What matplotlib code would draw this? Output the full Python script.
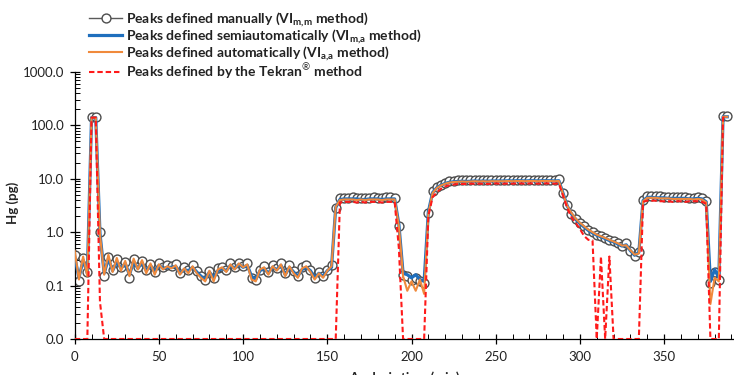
import numpy as np
import matplotlib
matplotlib.use("Agg")
import matplotlib.pyplot as plt
from matplotlib.ticker import FixedLocator, LogLocator, MultipleLocator, NullFormatter

plt.rcParams['font.family'] = ['Lato', 'DejaVu Sans']
plt.rcParams['mathtext.fontset'] = 'custom'
plt.rcParams['mathtext.rm'] = 'Lato'
plt.rcParams['mathtext.bf'] = 'Lato:bold'

# ---- data (2.5-min analysis cycles) ----
n_points = 156
time_min = np.arange(n_points) * 2.5

manual = [
    0.38, 0.12, 0.33, 0.18, 145, 145, 1.0, 0.15, 0.35, 0.20,
    0.31, 0.22, 0.28, 0.14, 0.31, 0.22, 0.29, 0.20, 0.25, 0.18,
    0.26, 0.22, 0.24, 0.23, 0.25, 0.17, 0.22, 0.20, 0.24, 0.19,
    0.15, 0.13, 0.19, 0.14, 0.21, 0.22, 0.20, 0.26, 0.22, 0.27,
    0.23, 0.26, 0.14, 0.13, 0.20, 0.23, 0.18, 0.24, 0.21, 0.26,
    0.17, 0.24, 0.19, 0.15, 0.22, 0.24, 0.20, 0.14, 0.18, 0.15,
    0.20, 0.24, 2.8, 4.3, 4.4, 4.4, 4.5, 4.4, 4.4, 4.3,
    4.4, 4.5, 4.4, 4.4, 4.5, 4.5, 4.4, 1.3, 0.16, 0.15,
    0.13, 0.14, 0.12, 0.11, 2.3, 5.8, 7.0, 7.8, 8.5, 9.0,
    9.2, 9.4, 9.5, 9.4, 9.5, 9.6, 9.5, 9.6, 9.5, 9.6,
    9.7, 9.6, 9.6, 9.7, 9.6, 9.7, 9.7, 9.6, 9.7, 9.7,
    9.6, 9.7, 9.7, 9.7, 9.6, 9.8, 5.5, 3.2, 2.2, 1.8,
    1.5, 1.3, 1.1, 1.0, 0.9, 0.85, 0.78, 0.72, 0.68, 0.62,
    0.55, 0.62, 0.45, 0.36, 0.42, 4.0, 4.8, 4.8, 4.7, 4.7,
    4.6, 4.6, 4.6, 4.5, 4.5, 4.5, 4.4, 4.4, 4.5, 4.4,
    3.8, 0.11, 0.18, 0.13, 148, 148,
]

semiauto = [
    0.35, 0.14, 0.30, 0.17, 140, 140, 0.95, 0.17, 0.32, 0.19,
    0.28, 0.21, 0.26, 0.16, 0.28, 0.21, 0.27, 0.19, 0.24, 0.18,
    0.24, 0.21, 0.22, 0.22, 0.23, 0.17, 0.20, 0.19, 0.22, 0.18,
    0.15, 0.13, 0.18, 0.14, 0.19, 0.21, 0.19, 0.24, 0.21, 0.25,
    0.22, 0.24, 0.15, 0.13, 0.19, 0.21, 0.17, 0.22, 0.20, 0.24,
    0.16, 0.22, 0.18, 0.15, 0.20, 0.22, 0.19, 0.14, 0.17, 0.15,
    0.19, 0.22, 2.9, 4.1, 4.2, 4.2, 4.2, 4.2, 4.1, 4.1,
    4.2, 4.2, 4.2, 4.1, 4.2, 4.2, 4.2, 1.4, 0.17, 0.16,
    0.14, 0.16, 0.13, 0.12, 2.4, 5.5, 6.8, 7.6, 8.2, 8.6,
    8.8, 8.9, 9.0, 8.9, 9.0, 9.1, 9.0, 9.1, 9.0, 9.1,
    9.1, 9.1, 9.1, 9.2, 9.1, 9.2, 9.2, 9.1, 9.2, 9.2,
    9.1, 9.2, 9.2, 9.2, 9.1, 9.2, 5.3, 3.1, 2.2, 1.75,
    1.45, 1.25, 1.08, 0.97, 0.88, 0.82, 0.76, 0.70, 0.66, 0.60,
    0.55, 0.58, 0.45, 0.37, 0.42, 3.9, 4.5, 4.5, 4.4, 4.4,
    4.4, 4.3, 4.3, 4.3, 4.3, 4.3, 4.2, 4.2, 4.3, 4.2,
    3.7, 0.12, 0.20, 0.14, 145, 145,
]

automatic = [
    0.45, 0.13, 0.35, 0.15, 140, 140, 0.9, 0.16, 0.38, 0.18,
    0.33, 0.19, 0.29, 0.15, 0.32, 0.20, 0.30, 0.17, 0.26, 0.16,
    0.25, 0.20, 0.23, 0.21, 0.24, 0.16, 0.21, 0.17, 0.23, 0.17,
    0.14, 0.12, 0.19, 0.12, 0.20, 0.22, 0.18, 0.25, 0.20, 0.26,
    0.22, 0.25, 0.13, 0.12, 0.20, 0.22, 0.16, 0.23, 0.19, 0.25,
    0.15, 0.23, 0.17, 0.14, 0.21, 0.23, 0.18, 0.13, 0.17, 0.14,
    0.19, 0.23, 3.0, 4.0, 4.1, 4.1, 4.1, 4.0, 4.1, 4.0,
    4.1, 4.1, 4.1, 4.0, 4.1, 4.1, 4.1, 1.3, 0.15, 0.08,
    0.12, 0.08, 0.13, 0.07, 2.2, 5.4, 6.7, 7.5, 8.1, 8.5,
    8.7, 8.8, 8.9, 8.8, 8.9, 9.0, 8.9, 9.0, 8.9, 9.0,
    9.0, 9.0, 9.0, 9.1, 9.0, 9.1, 9.1, 9.0, 9.1, 9.1,
    9.0, 9.1, 9.1, 9.1, 9.0, 9.1, 5.2, 3.1, 2.3, 1.8,
    1.5, 1.3, 1.12, 1.0, 0.9, 0.84, 0.78, 0.72, 0.67, 0.62,
    0.56, 0.57, 0.46, 0.38, 0.40, 3.8, 4.4, 4.4, 4.4, 4.3,
    4.3, 4.3, 4.2, 4.2, 4.2, 4.2, 4.2, 4.1, 4.2, 4.1,
    3.6, 0.045, 0.14, 0.12, 145, 145,
]

tekran = (
    [0.01, 0.01, 0.01, 0.01, 140, 140, 0.05, 0.01, 0.01, 0.01]
    + [0.01] * 50
    + [0.01, 0.01, 0.01, 3.6, 3.7, 3.7, 3.7, 3.6, 3.7, 3.6,
       3.7, 3.7, 3.7, 3.6, 3.7, 3.7, 3.7, 0.5, 0.01, 0.01,
       0.01, 0.01, 0.01, 0.01, 2.0, 4.5, 5.6, 6.5, 7.2, 7.6,
       7.8, 8.0, 8.0, 8.0, 8.1, 8.1, 8.1, 8.1, 8.0, 8.1,
       8.2, 8.1, 8.1, 8.2, 8.1, 8.2, 8.2, 8.1, 8.2, 8.2,
       8.1, 8.2, 8.2, 8.2, 8.1, 8.2, 4.8, 2.8, 1.9, 1.5,
       1.15, 0.85, 0.72, 0.70, 0.01, 0.35, 0.01, 0.35, 0.01, 0.01,
       0.01, 0.01, 0.01, 0.01, 0.01, 3.7, 3.9, 3.9, 3.9, 3.8,
       3.8, 3.8, 3.7, 3.8, 3.8, 3.7, 3.8, 3.8, 3.8, 3.7,
       3.4, 0.01, 0.01, 0.01, 140, 140]
)

y_ticks = [0.01, 0.1, 1, 10, 100, 1000]
y_tick_labels = ["0.0", "0.1", "1.0", "10.0", "100.0", "1000.0"]
x_ticks = [0, 50, 100, 150, 200, 250, 300, 350]

labels = [
    r"Peaks defined manually (VI$_{\mathbf{m{,}m}}$ method)",
    r"Peaks defined semiautomatically (VI$_{\mathbf{m{,}a}}$ method)",
    r"Peaks defined automatically (VI$_{\mathbf{a{,}a}}$ method)",
    r"Peaks defined by the Tekran$^{\circledR}$ method",
]

W, H = 734, 375
fig = plt.figure(figsize=(W / 100, H / 100), dpi=100)
ax_left, ax_right_px = 74.7, 734
ax_top_px, ax_bot_px = 72, 339
ax = fig.add_axes([ax_left / W, 1 - ax_bot_px / H,
                   (ax_right_px - ax_left) / W, (ax_bot_px - ax_top_px) / H])

l1, = ax.plot(time_min, manual, color="#5a5a5a", lw=1.0, marker="o", ms=6.4,
              mfc="white", mec="#4d4d4d", mew=1.0, zorder=2)
l2, = ax.plot(time_min, semiauto, color="#1f6fbd", lw=2.3, zorder=3)
l3, = ax.plot(time_min, automatic, color="#f08a3c", lw=1.5, zorder=4)
l4, = ax.plot(time_min, tekran, color="#ff1a1a", lw=1.5, ls=(0, (2.6, 1.4)), zorder=5)

ax.set_yscale("log")
ax.set_ylim(0.01, 1000)
ax.set_xlim(0, (ax_right_px - ax_left) / 1.684)
ax.yaxis.set_major_locator(FixedLocator(y_ticks))
ax.set_yticklabels(y_tick_labels)
ax.yaxis.set_minor_locator(LogLocator(base=10, subs=np.arange(2, 10), numticks=20))
ax.yaxis.set_minor_formatter(NullFormatter())
ax.xaxis.set_major_locator(FixedLocator(x_ticks))
ax.xaxis.set_minor_locator(MultipleLocator(10))

for s in ["top", "right"]:
    ax.spines[s].set_visible(False)
for s in ["left", "bottom"]:
    ax.spines[s].set_color("black")
    ax.spines[s].set_linewidth(0.9)

ax.tick_params(axis="both", which="major", direction="inout", length=7, width=0.9,
               labelsize=9.5, colors="black", labelcolor="#222222")
ax.tick_params(axis="both", which="minor", direction="in", length=3.5, width=0.7)
ax.tick_params(axis="x", which="major", pad=5)
ax.tick_params(axis="y", which="major", pad=4)

fig.text(13 / W, 1 - 203 / H, "Hg (pg)", rotation=90, ha="center", va="center",
         fontsize=9.5, fontweight="bold", color="#222222")
fig.text(404 / W, 1 - 371 / H, "Analysis time (min)", ha="center", va="top",
         fontsize=9.5, fontweight="bold", color="#222222")

leg = fig.legend([l1, l2, l3, l4], labels, loc="upper left",
                 bbox_to_anchor=(89 / W, 1 - 10 / H), frameon=False,
                 prop={"weight": "bold", "size": 10},
                 handlelength=2.4, handletextpad=0.3, labelspacing=-0.12,
                 borderpad=0, borderaxespad=0, numpoints=1)
for t in leg.get_texts():
    t.set_color("#222222")

fig.savefig("out.png", dpi=100)
